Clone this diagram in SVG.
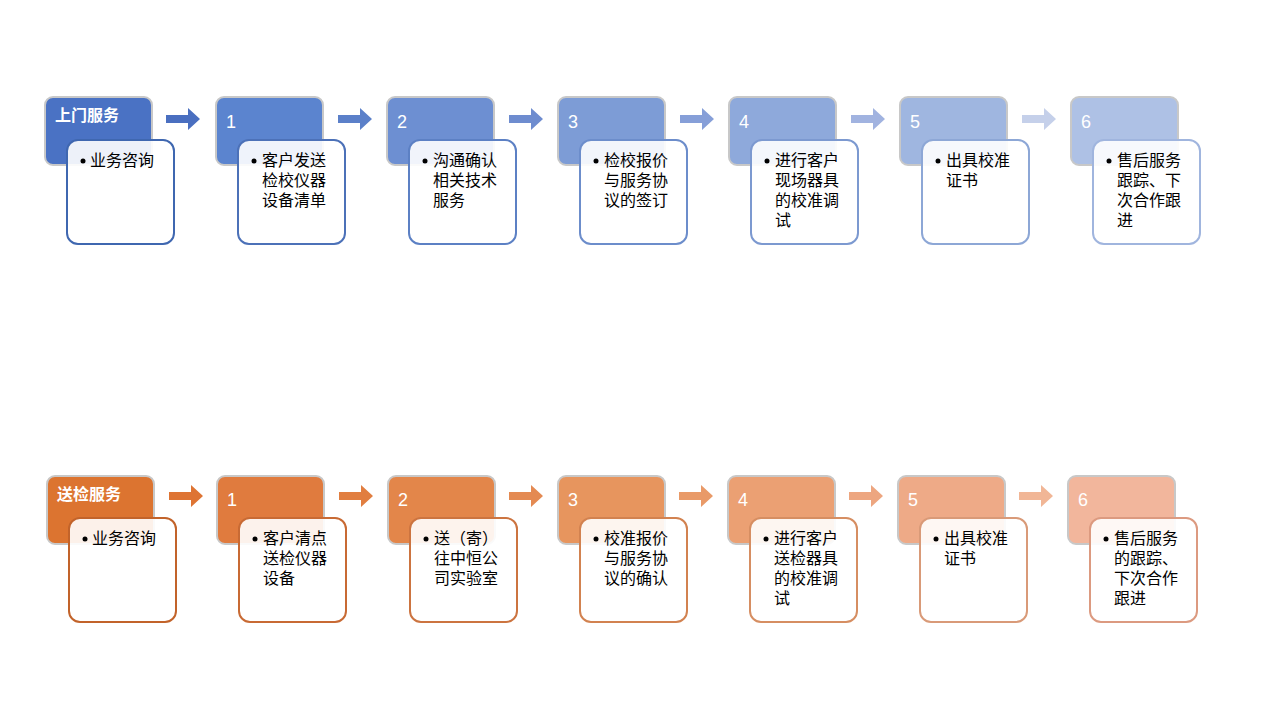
<svg xmlns="http://www.w3.org/2000/svg" width="1266" height="722" viewBox="0 0 1266 722">
<style>
.h{stroke:#c8c8c8;stroke-width:2}
.b{fill:#fff;fill-opacity:0.9;stroke-width:2}
.t{font-family:"Noto Sans CJK SC",sans-serif;font-size:16px;fill:#000}
.n{font-family:"Liberation Sans",sans-serif;font-size:18px;fill:#fff}
.hd{font-family:"Noto Sans CJK SC",sans-serif;font-size:16px;font-weight:bold;fill:#fff}
</style>
<defs><path id="ar" d="M0,7 H22 V0 L34,11 L22,22 V15 H0 Z"/></defs>
<g id="connectors">
<use href="#ar" x="166" y="108" fill="#4a6fc0"/><use href="#ar" x="338" y="108" fill="#5b80c9"/><use href="#ar" x="509" y="108" fill="#6e8ccf"/><use href="#ar" x="680" y="108" fill="#869fd8"/><use href="#ar" x="851" y="108" fill="#a1b3e0"/><use href="#ar" x="1022" y="108" fill="#c5d0ea"/>
<use href="#ar" x="169" y="485" fill="#de7433"/><use href="#ar" x="339" y="485" fill="#e17e40"/><use href="#ar" x="509" y="485" fill="#e48a52"/><use href="#ar" x="679" y="485" fill="#e99a68"/><use href="#ar" x="849" y="485" fill="#eda680"/><use href="#ar" x="1019" y="485" fill="#f1b696"/>
</g>
<g id="top-0"><rect class="h" x="45" y="97" width="107" height="68" rx="8" fill="#4a72c4"/><text class="hd" x="55" y="121">上门服务</text><rect class="b" x="67" y="140" width="107" height="104" rx="11" stroke="#3f67b0"/><circle cx="83" cy="161" r="2.5"/><text class="t" x="90" y="166">业务咨询</text></g>
<g id="top-1"><rect class="h" x="216" y="97" width="107" height="68" rx="8" fill="#5b84cf"/><text class="n" x="226" y="128">1</text><rect class="b" x="238" y="140" width="107" height="104" rx="11" stroke="#4c71b8"/><circle cx="254" cy="161" r="2.5"/><text class="t" x="262" y="166">客户发送</text><text class="t" x="262" y="186">检校仪器</text><text class="t" x="262" y="206">设备清单</text></g>
<g id="top-2"><rect class="h" x="387" y="97" width="107" height="68" rx="8" fill="#6d8fd2"/><text class="n" x="397" y="128">2</text><rect class="b" x="409" y="140" width="107" height="104" rx="11" stroke="#5c80c4"/><circle cx="425" cy="161" r="2.5"/><text class="t" x="433" y="166">沟通确认</text><text class="t" x="433" y="186">相关技术</text><text class="t" x="433" y="206">服务</text></g>
<g id="top-3"><rect class="h" x="558" y="97" width="107" height="68" rx="8" fill="#7d9cd6"/><text class="n" x="568" y="128">3</text><rect class="b" x="580" y="140" width="107" height="104" rx="11" stroke="#6c8dcb"/><circle cx="596" cy="161" r="2.5"/><text class="t" x="604" y="166">检校报价</text><text class="t" x="604" y="186">与服务协</text><text class="t" x="604" y="206">议的签订</text></g>
<g id="top-4"><rect class="h" x="729" y="97" width="107" height="68" rx="8" fill="#8ea9db"/><text class="n" x="739" y="128">4</text><rect class="b" x="751" y="140" width="107" height="104" rx="11" stroke="#7c99d0"/><circle cx="767" cy="161" r="2.5"/><text class="t" x="775" y="166">进行客户</text><text class="t" x="775" y="186">现场器具</text><text class="t" x="775" y="206">的校准调</text><text class="t" x="775" y="226">试</text></g>
<g id="top-5"><rect class="h" x="900" y="97" width="107" height="68" rx="8" fill="#9fb6e0"/><text class="n" x="910" y="128">5</text><rect class="b" x="922" y="140" width="107" height="104" rx="11" stroke="#8da7d6"/><circle cx="938" cy="161" r="2.5"/><text class="t" x="946" y="166">出具校准</text><text class="t" x="946" y="186">证书</text></g>
<g id="top-6"><rect class="h" x="1071" y="97" width="107" height="68" rx="8" fill="#aec1e5"/><text class="n" x="1081" y="128">6</text><rect class="b" x="1093" y="140" width="107" height="104" rx="11" stroke="#a0b5de"/><circle cx="1109" cy="161" r="2.5"/><text class="t" x="1117" y="166">售后服务</text><text class="t" x="1117" y="186">跟踪、下</text><text class="t" x="1117" y="206">次合作跟</text><text class="t" x="1117" y="226">进</text></g>

<g id="bot-0"><rect class="h" x="47" y="476" width="107" height="68" rx="8" fill="#dc7430"/><text class="hd" x="57" y="500">送检服务</text><rect class="b" x="69" y="518" width="107" height="104" rx="11" stroke="#c2632a"/><circle cx="85" cy="539" r="2.5"/><text class="t" x="92" y="544">业务咨询</text></g>
<g id="bot-1"><rect class="h" x="217" y="476" width="107" height="68" rx="8" fill="#e07b3e"/><text class="n" x="227" y="506">1</text><rect class="b" x="239" y="518" width="107" height="104" rx="11" stroke="#c86a34"/><circle cx="255" cy="539" r="2.5"/><text class="t" x="263" y="544">客户清点</text><text class="t" x="263" y="564">送检仪器</text><text class="t" x="263" y="584">设备</text></g>
<g id="bot-2"><rect class="h" x="388" y="476" width="107" height="68" rx="8" fill="#e3864a"/><text class="n" x="398" y="506">2</text><rect class="b" x="410" y="518" width="107" height="104" rx="11" stroke="#cc7440"/><circle cx="426" cy="539" r="2.5"/><text class="t" x="434" y="544">送（寄）</text><text class="t" x="434" y="564">往中恒公</text><text class="t" x="434" y="584">司实验室</text></g>
<g id="bot-3"><rect class="h" x="558" y="476" width="107" height="68" rx="8" fill="#e7955e"/><text class="n" x="568" y="506">3</text><rect class="b" x="580" y="518" width="107" height="104" rx="11" stroke="#d28250"/><circle cx="596" cy="539" r="2.5"/><text class="t" x="604" y="544">校准报价</text><text class="t" x="604" y="564">与服务协</text><text class="t" x="604" y="584">议的确认</text></g>
<g id="bot-4"><rect class="h" x="728" y="476" width="107" height="68" rx="8" fill="#eba073"/><text class="n" x="738" y="506">4</text><rect class="b" x="750" y="518" width="107" height="104" rx="11" stroke="#d68e62"/><circle cx="766" cy="539" r="2.5"/><text class="t" x="774" y="544">进行客户</text><text class="t" x="774" y="564">送检器具</text><text class="t" x="774" y="584">的校准调</text><text class="t" x="774" y="604">试</text></g>
<g id="bot-5"><rect class="h" x="898" y="476" width="107" height="68" rx="8" fill="#eeaa87"/><text class="n" x="908" y="506">5</text><rect class="b" x="920" y="518" width="107" height="104" rx="11" stroke="#d99a78"/><circle cx="936" cy="539" r="2.5"/><text class="t" x="944" y="544">出具校准</text><text class="t" x="944" y="564">证书</text></g>
<g id="bot-6"><rect class="h" x="1068" y="476" width="107" height="68" rx="8" fill="#f2b69c"/><text class="n" x="1078" y="506">6</text><rect class="b" x="1090" y="518" width="107" height="104" rx="11" stroke="#dc9a80"/><circle cx="1106" cy="539" r="2.5"/><text class="t" x="1114" y="544">售后服务</text><text class="t" x="1114" y="564">的跟踪、</text><text class="t" x="1114" y="584">下次合作</text><text class="t" x="1114" y="604">跟进</text></g>
</svg>
